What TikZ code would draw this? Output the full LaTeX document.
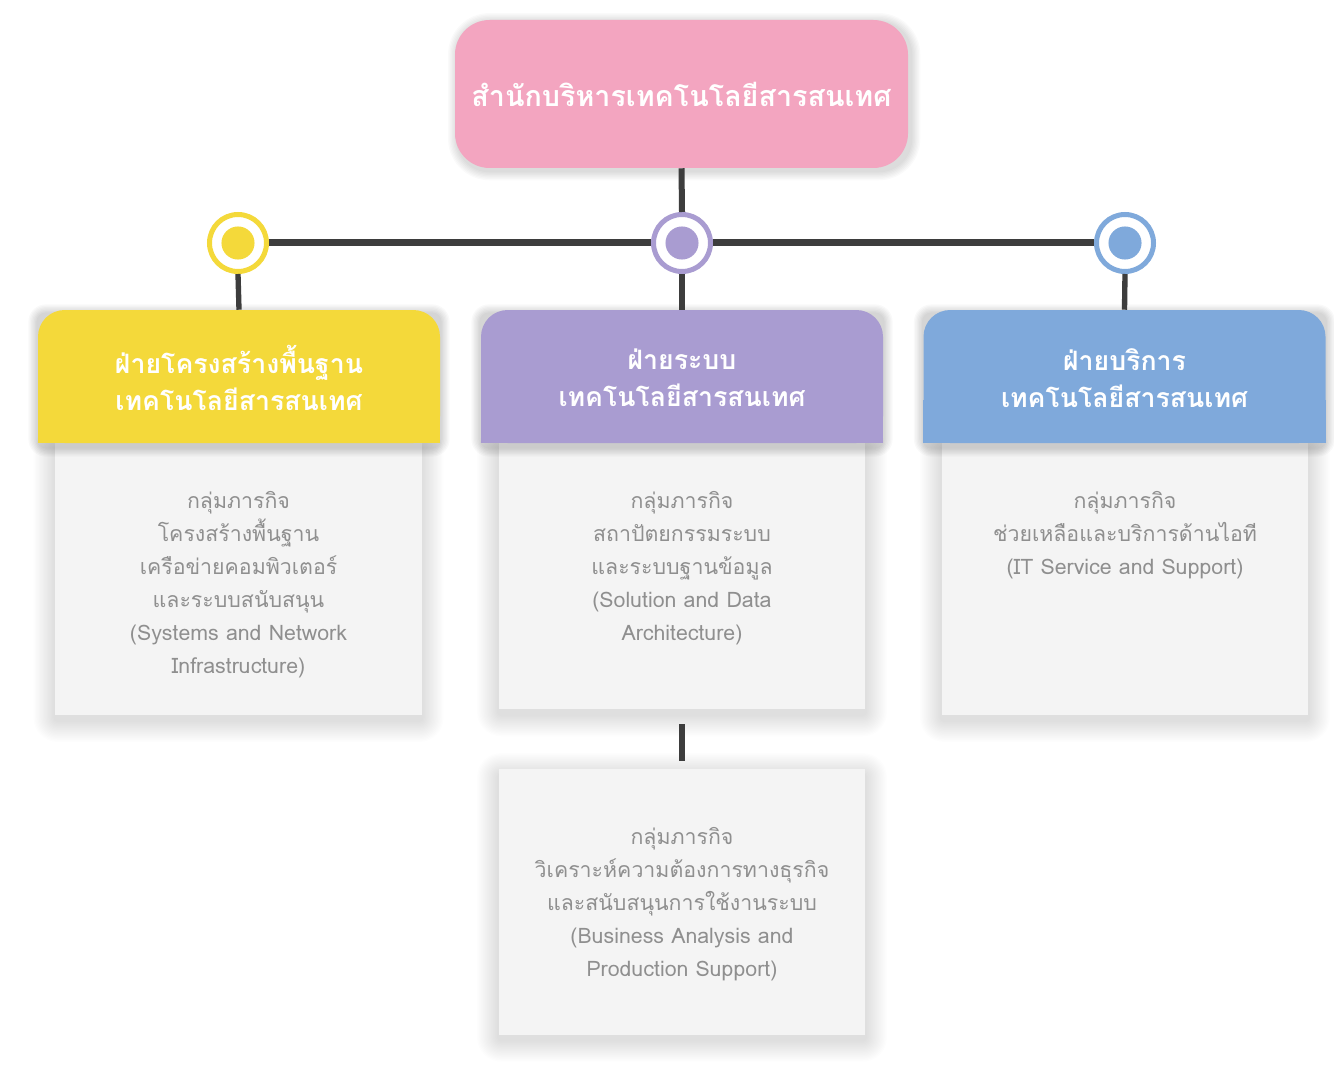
\documentclass[tikz,border=0pt]{standalone}
\usepackage{fontspec}
\newfontfamily\thai[Script=Thai]{Loma}
\usetikzlibrary{calc}

\definecolor{pinkbox}{HTML}{F3A5C0}
\definecolor{yel}{HTML}{F4D93A}
\definecolor{pur}{HTML}{A99CD1}
\definecolor{blu}{HTML}{7FA9DB}
\definecolor{wire}{HTML}{3D3D3D}
\definecolor{cardbg}{HTML}{F4F4F4}
\definecolor{cardtxt}{HTML}{8F8F8F}

\pgfdeclarelayer{paper}
\pgfdeclarelayer{shade}
\pgfdeclarelayer{cards}
\pgfdeclarelayer{headshade}
\pgfsetlayers{paper,shade,cards,headshade,main}

% soft shadow: node, steps, opacity per step, x offset (pt), y offset (pt), corner radius (pt)
\newcommand{\softshadow}[6]{%
  \foreach \s in {1,...,#2}{%
    \pgfmathsetmacro\rr{#6+\s}%
    \fill[black, opacity=#3, rounded corners=\rr pt]
      ($(#1.south west)+({#4pt-\s pt},{-#5pt-\s pt})$) rectangle
      ($(#1.north east)+({#4pt+\s pt},{-#5pt+\s pt})$);
  }}

\tikzset{
  titlebox/.style={fill=pinkbox, rounded corners=26pt, minimum width=339.75pt,
    minimum height=111pt, inner sep=0pt, text=white,
    font=\thai\bfseries\fontsize{21.5}{26}\selectfont},
  headbox/.style={fill=#1, rounded corners=20pt, minimum width=301.5pt,
    minimum height=99.75pt, inner sep=0pt},
  headtext/.style={text=white, align=center, font=\thai\bfseries\fontsize{20}{27.75}\selectfont},
  card/.style={fill=cardbg, minimum width=275pt, minimum height=#1, inner sep=0pt},
  cardtext/.style={text=cardtxt, align=center, anchor=north, inner sep=0pt,
    font=\thai\fontsize{16}{24.75}\selectfont},
  hub/.style={circle, draw=#1, line width=3.75pt, fill=white, minimum size=42.75pt,
    inner sep=0pt, path picture={\fill[#1] (path picture bounding box.center) circle (12.4pt);}},
  wireline/.style={draw=wire, line width=#1},
}

\begin{document}
\begin{tikzpicture}[x=0.75pt, y=-0.75pt]
  \begin{pgfonlayer}{paper}
    \fill[white] (0,0) rectangle (1334,1066);
  \end{pgfonlayer}
  \useasboundingbox (0,0) rectangle (1334,1066);

  % grey cards under the three divisions, and the extra group card
  \begin{pgfonlayer}{cards}
    \node[card=204pt] (k1) at (238.5,579) {};
    \node[card=200pt] (k2) at (682,576) {};
    \node[card=204pt] (k3) at (1125,579) {};
    \node[card=199pt] (k4) at (682,902) {};
  \end{pgfonlayer}

  % top box
  \node[titlebox] (top) at (681.5,94) {สำนักบริหารเทคโนโลยีสารสนเทศ};

  % division headers: rounded on top, square at the bottom
  \node[headbox=yel] (h1) at (239,376.5) {};
  \fill[yel] (38,400) rectangle (440,443);
  \node[headbox=pur] (h2) at (682,376.5) {};
  \fill[pur] (481,400) rectangle (883,443);
  \node[headbox=blu] (h3) at (1124.5,376.5) {};
  \fill[blu] (923,400) rectangle (1326,443);

  \node[headtext] at (239,378) {ฝ่ายโครงสร้างพื้นฐาน\\เทคโนโลยีสารสนเทศ};
  \node[headtext] at (682,378) {ฝ่ายระบบ\\เทคโนโลยีสารสนเทศ};
  \node[headtext] at (1124.5,378) {ฝ่ายบริการ\\เทคโนโลยีสารสนเทศ};

  % soft shadows
  \begin{pgfonlayer}{shade}
    \softshadow{k1}{16}{0.008}{0}{4}{2}
    \softshadow{k2}{16}{0.008}{0}{4}{2}
    \softshadow{k3}{16}{0.008}{0}{4}{2}
    \softshadow{k4}{16}{0.008}{0}{4}{2}
    \softshadow{top}{7}{0.02}{2}{2}{24}
  \end{pgfonlayer}
  \begin{pgfonlayer}{headshade}
    \softshadow{h1}{7}{0.025}{0}{3}{6}
    \softshadow{h2}{7}{0.025}{0}{3}{6}
    \softshadow{h3}{7}{0.025}{0}{3}{6}
  \end{pgfonlayer}

  % card texts
  \node[cardtext] (t1) at (238.5,491) {กลุ่มภารกิจ\\โครงสร้างพื้นฐาน\\เครือข่ายคอมพิวเตอร์\\และระบบสนับสนุน\\(Systems and Network\\Infrastructure)};
  \node[cardtext] (t2) at (682,491) {กลุ่มภารกิจ\\สถาปัตยกรรมระบบ\\และระบบฐานข้อมูล\\(Solution and Data\\Architecture)};
  \node[cardtext] (t3) at (1125,491) {กลุ่มภารกิจ\\ช่วยเหลือและบริการด้านไอที\\(IT Service and Support)};
  \node[cardtext] (t4) at (682,827) {กลุ่มภารกิจ\\วิเคราะห์ความต้องการทางธุรกิจ\\และสนับสนุนการใช้งานระบบ\\(Business Analysis and\\Production Support)};

  % hubs
  \node[hub=yel] (c1) at (238,243) {};
  \node[hub=pur] (c2) at (682,243) {};
  \node[hub=blu] (c3) at (1125,243) {};

  % connectors
  \draw[wireline=4.5pt] (top.south) -- (c2.north);
  \draw[wireline=5.25pt] (c1.east) -- (c2.west);
  \draw[wireline=5.25pt] (c2.east) -- (c3.west);
  \draw[wireline=4pt] (c1.south) -- (h1.north);
  \draw[wireline=4pt] (c2.south) -- (h2.north);
  \draw[wireline=4pt] (c3.south) -- (h3.north);
  \draw[wireline=4pt, shorten <=11pt, shorten >=6pt] (k2.south) -- (k4.north);
\end{tikzpicture}
\end{document}
